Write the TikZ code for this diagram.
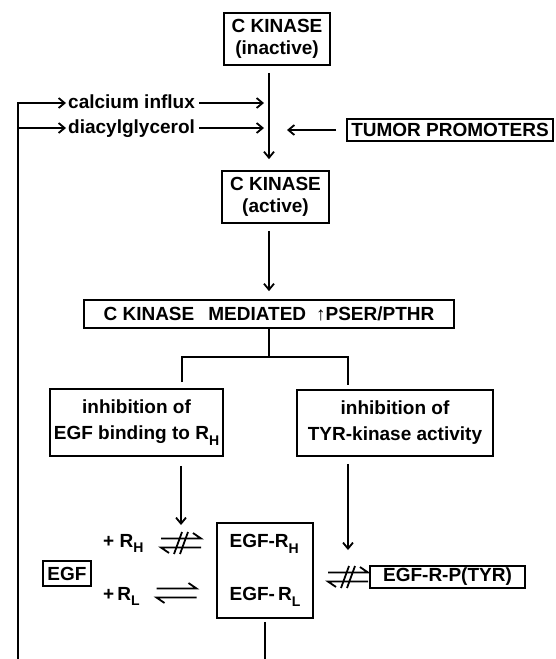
\documentclass[tikz,border=0pt]{standalone}
\usepackage{fontspec}
\setmainfont{Liberation Sans}
\usetikzlibrary{arrows.meta,positioning}
\newcommand{\lowidx}[1]{\raisebox{-.3em}{\fontsize{14}{14}\selectfont #1}}
\tikzset{
  box/.style={draw,line width=1.8pt,inner sep=3pt,align=center},
  lbl/.style={inner sep=0pt},
  conn/.style={line width=1.8pt},
  arr/.style={conn,-{Straight Barb[length=6pt,width=10pt]}},
  equil/.pic={
    \draw[conn] (-20,-4.5) -- (20,-4.5) -- (12,-10);
    \draw[conn] (20,4.5) -- (-20,4.5) -- (-12,10);
  },
  notequil/.pic={
    \pic {equil};
    \draw[conn] (-7,11) -- (1,-11) (-1,11) -- (7,-11);
  },
}

\begin{document}
\begin{tikzpicture}[x=1pt,y=-1pt,font=\bfseries\fontsize{19}{22}\selectfont]
  \useasboundingbox (0,0) rectangle (555,659);
  % C kinase, inactive -> active
  \node[box,minimum width=106pt,minimum height=52pt] (inact) at (277,39) {C KINASE\\(inactive)};
  \node[box,minimum width=107pt,minimum height=52pt] (act) at (275.5,197) {C KINASE\\(active)};
  \node[box,minimum width=206pt,minimum height=22pt,inner sep=2pt] (tum) at (450,130) {TUMOR PROMOTERS};
  \node[lbl,anchor=base west] (cal) at (68,108) {calcium influx};
  \node[lbl,anchor=base west] (dia) at (68,133) {diacylglycerol};
  \coordinate (jc) at (264,103);
  \coordinate (jd) at (264,128);
  \coordinate (jt) at (287,130);
  \coordinate (fb) at (18,659);
  \draw[arr,shorten <=7pt,shorten >=11pt] ([xshift=-8pt]inact.south) -- ([xshift=-6.5pt]act.north);
  \draw[arr] ([shift={(4pt,5pt)}]cal.base east) -- (jc);
  \draw[arr] ([shift={(4pt,5pt)}]dia.base east) -- (jd);
  \draw[arr,shorten <=10pt] (tum.west) -- (jt);
  % feedback
  \draw[arr] (fb) |- ([shift={(-2pt,5pt)}]cal.base west);
  \draw[arr] (fb |- jd) -- ([shift={(-2pt,5pt)}]dia.base west);

  % phosphorylation and its two effects
  \node[box,minimum width=370pt,minimum height=28pt] (med) at (269,314) {C KINASE\hspace{14pt}MEDIATED\hspace{10pt}↑PSER/PTHR};
  \draw[arr,shorten <=7pt,shorten >=8pt] (act.south -| med.north) -- (med.north);
  \node[box,minimum width=173pt,minimum height=67pt] (inhL) at (136.5,422.5) {inhibition of\\[4pt]EGF binding to R\lowidx{H}};
  \node[box,minimum width=196pt,minimum height=66pt] (inhR) at (395,423) {inhibition of\\[4pt]TYR-kinase activity};
  \coordinate (fork) at (269,357);
  \draw[conn] (med.south) -- (fork);
  \draw[conn] ([shift={(45.5pt,6pt)}]inhL.north) |- (fork) -| ([shift={(-47pt,4pt)}]inhR.north);

  % EGF receptor binding
  \node[box,minimum width=48pt,minimum height=25pt,inner sep=2pt] (egf) at (67,573.5) {EGF};
  \node[lbl,anchor=base west] (rh) at (103,547) {+ R\lowidx{H}};
  \node[lbl,anchor=base west] (rl) at (103,600) {+\,R\lowidx{L}};
  \node[box,minimum width=96pt,minimum height=95pt,align=left] (cplx) at (265,570.5) {EGF-R\lowidx{H}\\[31pt]EGF-\,R\lowidx{L}};
  \node[box,minimum width=155pt,minimum height=22pt,inner sep=2pt] (pty) at (447.5,577) {EGF-R-P(TYR)};
  \coordinate (eqH) at (181,543);
  \coordinate (eqL) at (176.5,593);
  \coordinate (eqP) at (348,577);
  \pic at (eqH) {notequil};
  \pic at (eqL) {equil};
  \pic at (eqP) {notequil};
  \draw[arr,shorten <=9pt] ([xshift=44.5pt]inhL.south) -- ([yshift=18pt]eqH);
  \draw[arr,shorten <=7pt] ([xshift=-47pt]inhR.south) -- ([yshift=27pt]eqP);
  \coordinate (out) at (265,659);
  \draw[conn,shorten <=3pt] (cplx.south) -- (out);
\end{tikzpicture}
\end{document}
